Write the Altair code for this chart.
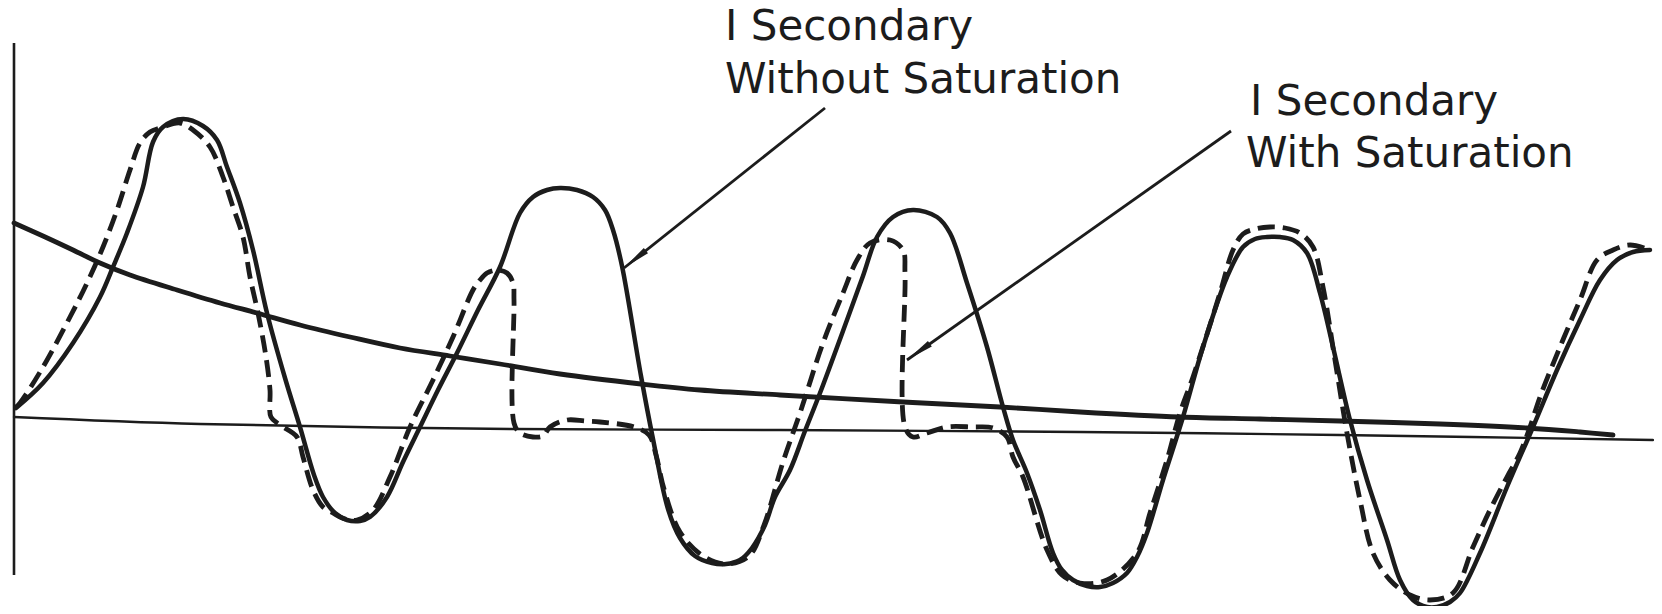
import math
import altair as alt
import pandas as pd

# Secondary current traces.
# t: time in arbitrary units (one power cycle is about 36 units), i: current in arbitrary units.
unsat_t = [0.2, 2.9, 5.9, 8.6, 9.9, 11.3, 12.9, 13.9, 14.9, 16.9, 18.9, 20.3, 21.3, 22.6, 23.9, 25.3,
           27.1, 28.6, 30.0, 30.9, 32.1, 33.3, 34.6, 35.6, 37.3, 38.9, 40.6, 42.4, 44.3, 46.4, 48.6,
           50.6, 51.9, 53.3, 54.6, 56.3, 57.9, 59.1, 59.9, 60.8, 62.7, 63.9, 65.4, 66.6, 68.1, 69.8,
           71.2, 72.6, 73.8, 75.1, 76.1, 77.6, 79.1, 80.6, 83.3, 84.9, 86.3, 87.9, 89.9, 92.3, 93.6,
           95.3, 97.3, 98.9, 99.9, 101.3, 102.6, 103.9, 104.8, 105.9, 107.3, 108.6, 109.9, 111.3,
           112.3, 113.3, 114.9, 116.9, 118.9, 121.3, 122.9, 124.1, 125.3, 126.6, 127.9, 129.3, 130.6,
           131.9, 133.6, 135.3, 137.3, 138.6, 139.9, 141.3, 142.3, 143.6, 144.6, 146.6, 149.3, 151.9,
           154.3, 156.6, 158.6, 160.3, 161.9, 163.6]
unsat_i = [0.9, 3.4, 7.4, 12.0, 15.0, 18.4, 23.0, 27.5, 29.0, 29.8, 29.1, 27.7, 25.0, 21.4, 16.7, 10.4,
           3.9, -1.0, -5.8, -8.0, -9.6, -10.3, -10.4, -10.0, -8.0, -4.5, -1.0, 2.7, 6.4, 10.7, 15.0,
           20.4, 22.0, 22.7, 22.9, 22.7, 22.0, 20.7, 18.7, 15.1, 4.1, -2.2, -9.2, -12.1, -13.9, -14.6,
           -14.7, -14.3, -13.1, -10.8, -8.0, -5.3, -1.4, 2.4, 9.7, 14.1, 18.0, 20.0, 20.7, 20.0, 18.4,
           13.4, 7.0, 1.0, -2.3, -5.6, -9.3, -13.6, -15.3, -16.3, -16.9, -17.0, -16.6, -15.6,
           -14.0, -11.6, -6.3, 0.0, 7.0, 14.0, 17.0, 17.8, 18.0, 18.0, 17.7, 16.4, 12.4,
           7.0, -0.3, -6.3, -12.3, -16.3, -18.3, -19.0, -19.0, -18.5, -17.6, -13.6, -7.0, -1.0,
           4.7, 9.7, 13.7, 15.7, 16.5, 16.7]

sat_t = [0.2, 0.6, 2.9, 5.6, 7.3, 8.9, 10.3, 11.6, 12.6, 13.6, 14.6, 16.6, 17.9, 19.6, 20.9, 21.9,
         22.9, 23.6, 24.4, 25.2, 25.6, 25.7, 26.6, 28.3, 28.9, 29.9, 30.9, 31.9, 33.1, 34.3, 35.9,
         37.6, 39.6, 41.9, 43.9, 45.9, 46.6, 47.3, 48.3, 49.3, 49.9, 50.0, 50.0, 50.6, 51.9, 52.9,
         53.6, 55.3, 57.1, 58.6, 62.0, 63.5, 64.2, 65.0, 66.6, 68.9, 71.2, 73.5, 75.0, 76.9, 78.6,
         80.9, 82.9, 84.3, 85.6, 87.6, 88.9, 89.1, 89.1, 89.9, 91.3, 93.3, 95.9, 97.9, 99.3, 99.9,
         100.9, 103.3, 104.8, 106.6, 109.3, 112.3, 113.6, 115.3, 116.6, 117.9, 120.6, 121.9, 122.9,
         124.1, 125.6, 127.1, 128.6, 129.9, 130.9, 132.1, 133.3, 134.6, 135.9, 137.6, 139.6, 141.6,
         143.9, 145.9, 147.6, 149.3, 150.6, 151.6, 152.6, 154.6, 156.6, 158.3, 159.9, 161.6, 163.6]
sat_i = [1.0, 1.4, 5.0, 10.0, 13.4, 17.0, 20.7, 24.7, 27.4, 28.5, 28.9, 29.4, 28.7, 27.0, 24.0, 21.0,
         18.0, 14.0, 10.4, 6.0, 2.7, 0.0, -0.8, -2.0, -4.0, -7.3, -9.0, -9.6, -10.2, -10.3, -9.3,
         -6.0, -1.0, 3.7, 8.0, 12.7, 13.7, 14.4, 14.7, 14.4, 13.4, 11.7, -0.6, -1.6, -2.0, -1.9,
         -1.0, -0.3, -0.4, -0.5, -1.0, -1.8, -3.8, -7.2, -11.5, -13.9, -14.7, -13.9, -10.8, -4.5, 0.4,
         7.4, 12.4, 15.7, 17.4, 17.7, 16.7, 14.4, -1.0, -2.0, -1.6, -1.0, -1.0, -1.1, -2.0, -4.0,
         -6.0, -13.3, -15.8, -16.6, -16.3, -13.6, -9.6, -4.3, 0.4, 4.0, 12.4, 16.7, 18.3,
         18.8, 19.0, 18.9, 18.4, 17.0, 13.0, 5.7, -1.6, -8.3, -13.6, -16.3, -17.8, -18.3,
         -17.6, -13.0, -9.3, -6.0, -3.6, -1.0, 2.0, 7.0, 11.7, 15.7, 16.7, 17.2, 16.7]

dc_t = [0.0, 2.9, 5.9, 8.6, 11.6, 16.3, 20.6, 24.3, 28.6, 33.6, 38.6, 43.6, 48.6, 54.6, 62.7, 68.6,
        76.6, 88.9, 98.6, 106.6, 116.6, 124.6, 132.6, 142.6, 151.3, 156.6, 159.9]
dc_i = [19.4, 18.1, 16.7, 15.4, 14.2, 12.7, 11.4, 10.4, 9.2, 8.0, 6.9, 6.1, 5.3, 4.3, 3.3, 2.7,
        2.2, 1.5, 1.0, 0.5, 0.0, -0.2, -0.4, -0.7, -1.1, -1.5, -1.8]

base_t = [0.0, 18.6, 50.0, 76.6, 106.6, 132.6, 163.9]
base_i = [0.0, -0.7, -1.2, -1.3, -1.5, -1.8, -2.3]

yaxis_i = [37.4, -15.8]

label_text = ["I Secondary", "Without Saturation", "I Secondary", "With Saturation"]
label_t = [71.1, 71.1, 123.6, 123.2]
label_i = [37.7, 32.4, 30.2, 25.0]

leader_t0 = [81.1, 121.7]
leader_i0 = [30.9, 28.6]
leader_t1 = [61.0, 89.3]
leader_i1 = [14.9, 5.7]

INK = "#1c1c1c"
XDOM = [-0.6, 164.0]
YDOM = [-18.9, 40.9]
xs = alt.Scale(domain=XDOM, nice=False, zero=False)
ys = alt.Scale(domain=YDOM, nice=False, zero=False)


def series(t, i):
    return pd.DataFrame({"t": t, "i": i, "k": list(range(len(t)))})


def trace(df, width, dash=None):
    kw = dict(interpolate="catmull-rom", strokeWidth=width, color=INK,
              strokeCap="round", strokeJoin="round")
    if dash:
        kw["strokeDash"] = dash
        kw["strokeCap"] = "butt"
    return alt.Chart(df).mark_line(**kw).encode(
        x=alt.X("t:Q", scale=xs, axis=None),
        y=alt.Y("i:Q", scale=ys, axis=None),
        order="k:Q",
    )


base = trace(series(base_t, base_i), 2.4)
dc = trace(series(dc_t, dc_i), 4.8)
unsat = trace(series(unsat_t, unsat_i), 4.5)
sat = trace(series(sat_t, sat_i), 4.8, dash=[17, 8])

yaxis = alt.Chart(pd.DataFrame({"t": [0.0], "i": [yaxis_i[0]], "i2": [yaxis_i[1]]})).mark_rule(
    strokeWidth=2.6, color=INK
).encode(x=alt.X("t:Q", scale=xs, axis=None), y=alt.Y("i:Q", scale=ys, axis=None), y2="i2:Q")

lead_df = pd.DataFrame({"t0": leader_t0, "i0": leader_i0, "t1": leader_t1, "i1": leader_i1})
lead_df["ang"] = [
    (math.degrees(math.atan2(a1 - a0, b1 - b0)) + 360) % 360
    for a0, b0, a1, b1 in zip(leader_t0, leader_i0, leader_t1, leader_i1)
]
leaders = alt.Chart(lead_df).mark_rule(strokeWidth=2.8, color=INK).encode(
    x=alt.X("t0:Q", scale=xs, axis=None), y=alt.Y("i0:Q", scale=ys, axis=None),
    x2="t1:Q", y2="i1:Q",
)
heads = alt.Chart(lead_df).mark_point(
    shape="M0,0L0.24,2L-0.24,2Z", filled=True, size=784, color=INK, opacity=1
).encode(
    x=alt.X("t1:Q", scale=xs, axis=None), y=alt.Y("i1:Q", scale=ys, axis=None),
    angle=alt.Angle("ang:Q", scale=None),
)

labels = alt.Chart(pd.DataFrame({"t": label_t, "i": label_i, "txt": label_text})).mark_text(
    align="left", baseline="alphabetic", font="DejaVu Sans", fontSize=42, color=INK
).encode(x=alt.X("t:Q", scale=xs, axis=None), y=alt.Y("i:Q", scale=ys, axis=None), text="txt:N")

chart = alt.layer(base, yaxis, dc, sat, unsat, leaders, heads, labels).properties(
    width=1646, height=598, padding=0,
    autosize=alt.AutoSizeParams(type="none"),
    background="white",
).configure_view(stroke=None)

chart.save("out.html", embed_options={"renderer": "svg", "actions": False})
